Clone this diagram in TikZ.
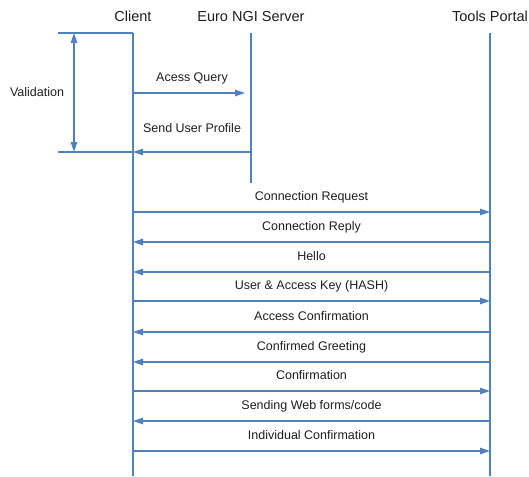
\documentclass[tikz,border=0pt]{standalone}
\usepackage{fontspec}
\setmainfont{Liberation Sans}
\usetikzlibrary{arrows.meta,positioning}

\definecolor{lineblue}{RGB}{79,129,189}
\definecolor{textgray}{RGB}{30,30,30}

\begin{document}
\begin{tikzpicture}[
    x=1pt, y=-1pt,
    lifeline/.style={
        draw=lineblue,
        line width=2pt
    },
    guide/.style={
        draw=lineblue,
        line width=1.3pt
    },
    msg/.style={
        draw=lineblue,
        line width=1.3pt,
        -{Triangle[length=10pt,width=6.5pt]}
    },
    actor/.style={
        font=\fontsize{14.5}{16}\selectfont,
        text=textgray,
        anchor=base,
        inner sep=0pt
    },
    msgtext/.style={
        font=\fontsize{12.5}{14}\selectfont,
        text=textgray,
        anchor=base,
        inner sep=0pt
    }
]
\useasboundingbox (0,0) rectangle (529,476);

% Actors
\node[actor] (client) at (133,22) {Client};
\node[actor] (euro) at (251,22) {Euro NGI Server};
\node[actor] (portal) at (490,22) {Tools Portal};

% Lifelines
\coordinate (clienttop) at (133,33);
\coordinate (clientbot) at (133,476);
\coordinate (eurotop) at (251,33);
\coordinate (eurobot) at (251,183);
\coordinate (portaltop) at (490,33);
\coordinate (portalbot) at (490,476);

\draw[lifeline] (clienttop) -- (clientbot);
\draw[lifeline] (eurotop) -- (eurobot);
\draw[lifeline] (portaltop) -- (portalbot);

% Validation bracket
\coordinate (vtop) at (58,33);
\coordinate (vbot) at (58,152);
\coordinate (vA) at (74,33);
\coordinate (vB) at (74,152);
\coordinate (cq) at (133,93);
\coordinate (eq) at (251,93);
\coordinate (cp) at (133,152);
\coordinate (ep) at (251,152);

\draw[guide] (vtop) -- (clienttop);
\draw[guide] (vbot) -- (cp);
\draw[guide, {Triangle[length=10pt,width=6.5pt]}-{Triangle[length=10pt,width=6.5pt]}] (vA) -- (vB);
\node[msgtext] (validation) at (37,96.5) {Validation};

% Client <-> Euro NGI Server
\draw[msg, shorten >=6pt] (cq) -- node[msgtext, yshift=11.5pt] {Acess Query} (eq);
\draw[msg] (ep) -- node[msgtext, yshift=19.5pt] {Send User Profile} (cp);

% Client <-> Tools Portal
\foreach \y/\txt/\from/\to in {
    212/Connection Request/c/p,
    242/Connection Reply/p/c,
    272/Hello/p/c,
    301/User \& Access Key (HASH)/c/p,
    332/Access Confirmation/p/c,
    362/Confirmed Greeting/p/c,
    391/Confirmation/c/p,
    421/{Sending Web forms/code}/p/c,
    451/Individual Confirmation/c/p}{
    \coordinate (c\y) at (133,\y);
    \coordinate (p\y) at (490,\y);
    \draw[msg] (\from\y) -- node[msgtext, yshift=11.5pt] {\txt} (\to\y);
}

\end{tikzpicture}
\end{document}
